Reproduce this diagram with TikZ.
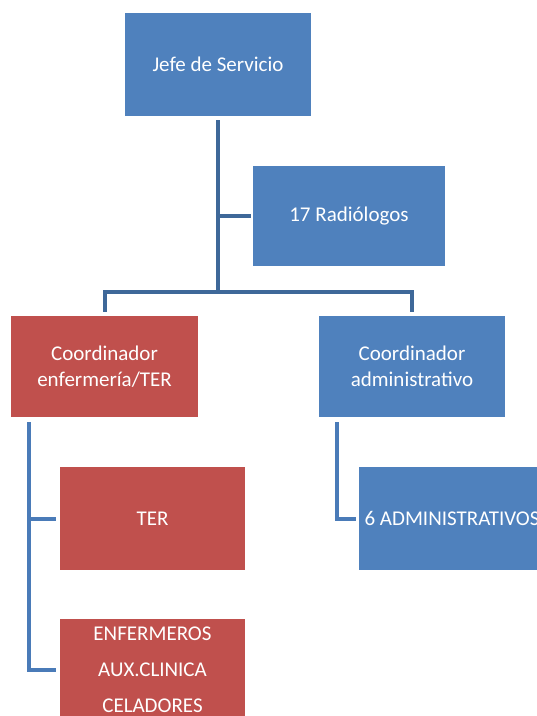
\documentclass[tikz,border=0pt]{standalone}
\usepackage{fontspec}
\setmainfont{Carlito}
\definecolor{boxblue}{HTML}{4F81BD}
\definecolor{boxred}{HTML}{C0504D}
\definecolor{topline}{HTML}{3E6899}
\definecolor{lowline}{HTML}{4A7BB8}
\begin{document}
\begin{tikzpicture}[x=1pt,y=-1pt,
  box/.style={draw=none, text=white, align=center, inner sep=0pt,
    font=\fontsize{21}{26}\selectfont},
  bluebox/.style={box, fill=boxblue},
  redbox/.style={box, fill=boxred},
  topconn/.style={draw=topline, line width=4pt},
  lowconn/.style={draw=lowline, line width=4pt}]
\useasboundingbox (0,0) rectangle (537,716);
\clip (0,0) rectangle (537,716);
\node[bluebox, minimum width=186pt, minimum height=103pt] (jefe) at (218,64.5) {Jefe de Servicio};
\node[bluebox, minimum width=192pt, minimum height=100pt] (radio) at (349,216) {17 Radiólogos};
\node[redbox, minimum width=187pt, minimum height=101pt] (cenf) at (104.5,366.5) {Coordinador\\enfermería/TER};
\node[bluebox, minimum width=186pt, minimum height=101pt] (cadm) at (412,366.5) {Coordinador\\administrativo};
\node[redbox, minimum width=185pt, minimum height=103pt] (ter) at (152.5,518.5) {TER};
\node[bluebox, minimum width=186pt, minimum height=103pt] (adm) at (452,518.5) {6 ADMINISTRATIVOS};
\node[redbox, minimum width=185pt, minimum height=102pt, font=\fontsize{21}{36}\selectfont] (enf) at (152.5,670) {ENFERMEROS\\AUX.CLINICA\\CELADORES};
% top connectors
\draw[topconn] ([yshift=-4pt]jefe.south) -- ([yshift=24pt]jefe.south |- cenf.north);
\draw[topconn] ([xshift=-2pt]radio.west) -- (radio.west -| jefe.south);
\draw[topconn] ([yshift=4pt]cenf.north) -- ([yshift=24pt]cenf.north) -- ([yshift=24pt]cadm.north) -- ([yshift=4pt]cadm.north);
% lower connectors
\coordinate (lv) at ([xshift=18pt,yshift=-5pt]cenf.south west);
\draw[lowconn] (lv) -- (lv |- enf.west) -- ([xshift=-4pt]enf.west);
\draw[lowconn] (lv |- ter.west) -- ([xshift=-4pt]ter.west);
\coordinate (rv) at ([xshift=18pt,yshift=-5pt]cadm.south west);
\draw[lowconn] (rv) -- (rv |- adm.west) -- ([xshift=-3pt]adm.west);
\end{tikzpicture}
\end{document}
